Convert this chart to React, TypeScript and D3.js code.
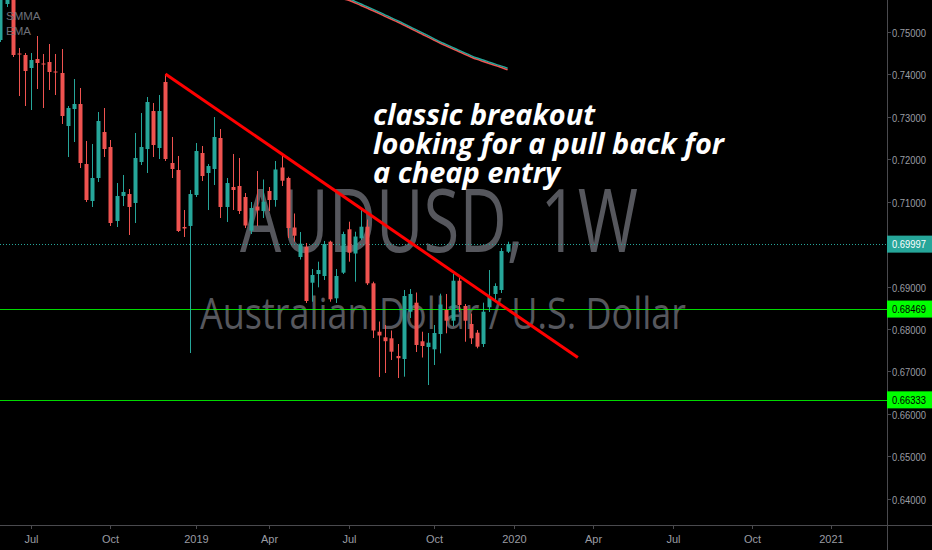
import React from "react";
import * as d3 from "d3";

const W = 932;
const H = 550;
const PLOT_R = 887;
const PLOT_B = 525;

const startWeek = new Date(2018, 4, 28);

const opens = [0.748, 0.75647, 0.76, 0.74482, 0.74447, 0.74141, 0.74353, 0.74247, 0.74282, 0.74059, 0.74024, 0.72776, 0.73176, 0.73294, 0.71882, 0.71012, 0.71553, 0.72635, 0.72282, 0.70541, 0.71129, 0.71176, 0.70965, 0.71929, 0.72235, 0.73129, 0.72259, 0.73812, 0.71906, 0.71741, 0.704, 0.70424, 0.71153, 0.72141, 0.71671, 0.71765, 0.72494, 0.70871, 0.71341, 0.71365, 0.71106, 0.70313, 0.70882, 0.70776, 0.71247, 0.71035, 0.718, 0.71553, 0.70388, 0.69694, 0.69936, 0.69089, 0.69294, 0.69247, 0.70054, 0.68722, 0.69325, 0.70346, 0.69776, 0.70134, 0.70407, 0.69075, 0.67936, 0.67805, 0.67781, 0.67365, 0.67294, 0.68407, 0.68619, 0.67711, 0.67576, 0.67522, 0.67882, 0.68447, 0.68195, 0.69136, 0.68541, 0.68118, 0.67913, 0.67647, 0.68511, 0.68824, 0.68918, 0.69819];
const highs = [0.7615, 0.762, 0.7615, 0.74612, 0.74494, 0.74494, 0.74894, 0.74471, 0.74706, 0.74471, 0.74588, 0.73247, 0.73882, 0.73671, 0.72424, 0.72353, 0.73106, 0.732, 0.72447, 0.71435, 0.71624, 0.71294, 0.72612, 0.73082, 0.73459, 0.73318, 0.73506, 0.74, 0.72518, 0.72071, 0.708, 0.71271, 0.72376, 0.72306, 0.71882, 0.72988, 0.72706, 0.71553, 0.72118, 0.72024, 0.712, 0.70988, 0.71718, 0.71518, 0.71341, 0.71953, 0.72106, 0.71584, 0.70718, 0.70282, 0.70024, 0.69412, 0.69584, 0.70071, 0.70078, 0.69412, 0.70289, 0.70525, 0.70289, 0.7084, 0.70576, 0.69113, 0.68176, 0.68094, 0.67965, 0.67647, 0.68918, 0.68941, 0.68859, 0.67936, 0.67906, 0.68094, 0.68831, 0.68824, 0.69294, 0.69247, 0.68588, 0.68365, 0.67976, 0.68619, 0.69388, 0.69075, 0.69906, 0.70054];
const lows = [0.74753, 0.75576, 0.744, 0.73482, 0.73247, 0.73153, 0.73647, 0.732, 0.73624, 0.73506, 0.72824, 0.72047, 0.724, 0.71788, 0.70988, 0.70871, 0.71459, 0.72047, 0.70424, 0.704, 0.70894, 0.70212, 0.70494, 0.71859, 0.71671, 0.72047, 0.72, 0.71953, 0.71553, 0.70282, 0.70165, 0.67435, 0.71106, 0.71482, 0.708, 0.71388, 0.70612, 0.70518, 0.708, 0.70706, 0.70376, 0.70235, 0.70424, 0.70612, 0.70776, 0.70878, 0.71365, 0.70141, 0.70054, 0.69635, 0.68612, 0.68642, 0.68981, 0.69153, 0.68642, 0.68612, 0.69294, 0.69584, 0.69113, 0.70094, 0.69035, 0.67788, 0.66871, 0.66965, 0.67271, 0.66847, 0.66878, 0.68259, 0.67459, 0.67329, 0.66682, 0.67153, 0.67428, 0.67899, 0.68071, 0.684, 0.67701, 0.67647, 0.67546, 0.67576, 0.684, 0.68682, 0.68847, 0.69788];
const closes = [0.76, 0.76, 0.74447, 0.74459, 0.74071, 0.74329, 0.74259, 0.74224, 0.74047, 0.74035, 0.73012, 0.732, 0.73294, 0.71906, 0.71035, 0.71553, 0.72894, 0.72235, 0.70494, 0.71129, 0.71224, 0.70871, 0.72024, 0.72282, 0.73341, 0.72329, 0.73129, 0.72, 0.71765, 0.70306, 0.70365, 0.71176, 0.72188, 0.716, 0.71835, 0.72518, 0.70871, 0.71435, 0.71271, 0.70776, 0.70435, 0.70847, 0.70788, 0.70995, 0.71035, 0.71753, 0.71489, 0.70376, 0.70195, 0.70007, 0.68659, 0.69271, 0.69388, 0.7, 0.68699, 0.69247, 0.70235, 0.69795, 0.70176, 0.70407, 0.69075, 0.67965, 0.67847, 0.67713, 0.67466, 0.67313, 0.68776, 0.68824, 0.67624, 0.676, 0.67678, 0.67906, 0.68576, 0.68195, 0.69136, 0.68565, 0.68195, 0.67781, 0.67584, 0.68407, 0.6876, 0.69012, 0.69835, 0.69997];

const maStartBar = 56;
const emaValues = [0.758, 0.75772, 0.75711, 0.75647, 0.75586, 0.75522, 0.75456, 0.75388, 0.7532, 0.75254, 0.75186, 0.75115, 0.75042, 0.74972, 0.74901, 0.74828, 0.74755, 0.74692, 0.74626, 0.74562, 0.74496, 0.74433, 0.74376, 0.74329, 0.7428, 0.74231, 0.74184, 0.74134];
const smmaValues = [0.75785, 0.75757, 0.75697, 0.75632, 0.75571, 0.75506, 0.7544, 0.75372, 0.75305, 0.7524, 0.75172, 0.751, 0.75028, 0.74958, 0.74887, 0.74814, 0.74742, 0.74678, 0.74613, 0.7455, 0.74484, 0.74421, 0.74364, 0.74316, 0.74268, 0.74219, 0.74171, 0.7412];

const priceTicks = [0.64, 0.65, 0.66, 0.67, 0.68, 0.69, 0.7, 0.71, 0.72, 0.73, 0.74, 0.75];
const timeTickDates = [new Date(2018, 6, 1), new Date(2018, 9, 1), new Date(2019, 0, 1), new Date(2019, 3, 1), new Date(2019, 6, 1), new Date(2019, 9, 1), new Date(2020, 0, 1), new Date(2020, 3, 1), new Date(2020, 6, 1), new Date(2020, 9, 1), new Date(2021, 0, 1)];
const timeTickLabels = ["Jul", "Oct", "2019", "Apr", "Jul", "Oct", "2020", "Apr", "Jul", "Oct", "2021"];

const greenLevels = [0.68469, 0.66333];
const lastPrice = 0.69997;
const trendBars = [27, 94.5];
const trendPrices = [0.74, 0.67327];
const annotationLines = ["classic breakout", "looking for a pull back for", "a cheap entry"];
const annotationWidths = [222, 351, 187];
const legendNames = ["SMMA", "EMA"];

const UP = "#26a69a";
const DOWN = "#ef5350";
const AXIS_TEXT = "#9a9ca3";
const AXIS_LINE = "#4a4a4e";
const LIME = "#00ff00";
const AXIS_FONT = "'Liberation Sans Narrow', 'Liberation Sans', Arial, sans-serif";

export default function App() {
  const x = d3.scaleLinear().domain([0, 136]).range([0.45, 831.4]);
  const y = d3.scaleLinear().domain([0.64, 0.75]).range([499, 31.5]);
  const weekIndex = (d: Date) =>
    Math.round((d3.timeMonday.ceil(d).getTime() - startWeek.getTime()) / (7 * 864e5));

  const maLine = d3
    .line<number>()
    .x((_, i) => x(maStartBar + i))
    .y((v) => y(v))
    .curve(d3.curveMonotoneX);

  const bodyW = 4;

  return (
    <svg width={W} height={H} style={{ display: "block", position: "absolute", left: 0, top: 0, background: "#000" }}>
      <rect x={0} y={0} width={W} height={H} fill="#000" />
      <defs>
        <clipPath id="plot">
          <rect x={0} y={0} width={PLOT_R} height={PLOT_B} />
        </clipPath>
      </defs>

      {/* watermark */}
      <g fill="#56575d" fontFamily="'Open Sans', 'Noto Sans', sans-serif">
        <text x={240} y={252} fontSize={88} textLength={398} lengthAdjust="spacingAndGlyphs">
          AUDUSD, 1W
        </text>
        <text x={200} y={329} fontSize={43} textLength={486} lengthAdjust="spacingAndGlyphs">
          Australian Dollar / U.S. Dollar
        </text>
      </g>

      <g clipPath="url(#plot)">
        {/* horizontal levels */}
        {greenLevels.map((v, i) => (
          <line key={"g" + i} x1={0} x2={PLOT_R} y1={Math.round(y(v)) + 0.5} y2={Math.round(y(v)) + 0.5} stroke={LIME} strokeWidth={1} opacity={0.85} />
        ))}
        <line x1={0} x2={PLOT_R} y1={Math.round(y(lastPrice)) + 0.5} y2={Math.round(y(lastPrice)) + 0.5} stroke={UP} strokeWidth={1} strokeDasharray="1,2" />

        {/* candles */}
        {opens.map((o, i) => {
          const c = closes[i];
          const up = c >= o;
          const col = up ? UP : DOWN;
          const cx = Math.round(x(i));
          const top = y(Math.max(o, c));
          const bot = y(Math.min(o, c));
          return (
            <g key={i}>
              <rect x={cx} y={y(highs[i])} width={1} height={Math.max(1, y(lows[i]) - y(highs[i]))} fill={col} />
              <rect x={cx - 1.5} y={top} width={bodyW} height={Math.max(1, bot - top)} fill={col} />
            </g>
          );
        })}

        {/* moving averages */}
        <path d={maLine(smmaValues) || ""} fill="none" stroke={DOWN} strokeWidth={1.6} transform="translate(0,0.8)" />
        <path d={maLine(emaValues) || ""} fill="none" stroke={UP} strokeWidth={1.4} />

        {/* trend line */}
        <line x1={x(trendBars[0])} y1={y(trendPrices[0])} x2={x(trendBars[1])} y2={y(trendPrices[1])} stroke="#ff0000" strokeWidth={3} />
      </g>

      {/* legend */}
      <g fill="#6e7079" fontFamily={AXIS_FONT} fontSize={11.5}>
        {legendNames.map((n, i) => (
          <text key={n} x={6} y={19.5 + i * 15.5}>
            {n}
          </text>
        ))}
      </g>

      {/* annotation */}
      <g fill="#ffffff" fontFamily="'Open Sans', 'Noto Sans', sans-serif" fontWeight="bold" fontStyle="italic" fontSize={28}>
        {annotationLines.map((t, i) => (
          <text key={i} x={373} y={125 + i * 29} textLength={annotationWidths[i]} lengthAdjust="spacingAndGlyphs">
            {t}
          </text>
        ))}
      </g>

      {/* axes */}
      <line x1={PLOT_R + 0.5} x2={PLOT_R + 0.5} y1={0} y2={H} stroke={AXIS_LINE} strokeWidth={1} />
      <line x1={0} x2={W} y1={PLOT_B + 0.5} y2={PLOT_B + 0.5} stroke={AXIS_LINE} strokeWidth={1} />

      <g fontFamily={AXIS_FONT} fontSize={11} fill={AXIS_TEXT}>
        {priceTicks.map((v) => {
          const yy = Math.round(y(v)) + 0.5;
          return (
            <g key={v}>
              <line x1={PLOT_R} x2={PLOT_R + 4} y1={yy} y2={yy} stroke={AXIS_LINE} />
              <text x={892} y={yy + 4} textLength={34} lengthAdjust="spacingAndGlyphs">
                {v.toFixed(5)}
              </text>
            </g>
          );
        })}
        {timeTickDates.map((d, i) => {
          const xx = Math.round(x(weekIndex(d))) + 0.5;
          return (
            <g key={i}>
              <line x1={xx} x2={xx} y1={PLOT_B} y2={PLOT_B + 4} stroke={AXIS_LINE} />
              <text x={xx} y={543} textAnchor="middle">
                {timeTickLabels[i]}
              </text>
            </g>
          );
        })}
      </g>

      {/* price labels */}
      <g fontFamily={AXIS_FONT} fontSize={11}>
        <rect x={PLOT_R} y={y(lastPrice) - 8.5} width={W - PLOT_R} height={17} fill={UP} />
        <text x={892} y={y(lastPrice) + 4} fill="#ffffff" textLength={34} lengthAdjust="spacingAndGlyphs">
          {lastPrice.toFixed(5)}
        </text>
        {greenLevels.map((v, i) => (
          <g key={i}>
            <rect x={PLOT_R} y={y(v) - 8.5} width={W - PLOT_R} height={17} fill={LIME} />
            <text x={892} y={y(v) + 4} fill="#000" textLength={34} lengthAdjust="spacingAndGlyphs">
              {v.toFixed(5)}
            </text>
          </g>
        ))}
      </g>
    </svg>
  );
}
